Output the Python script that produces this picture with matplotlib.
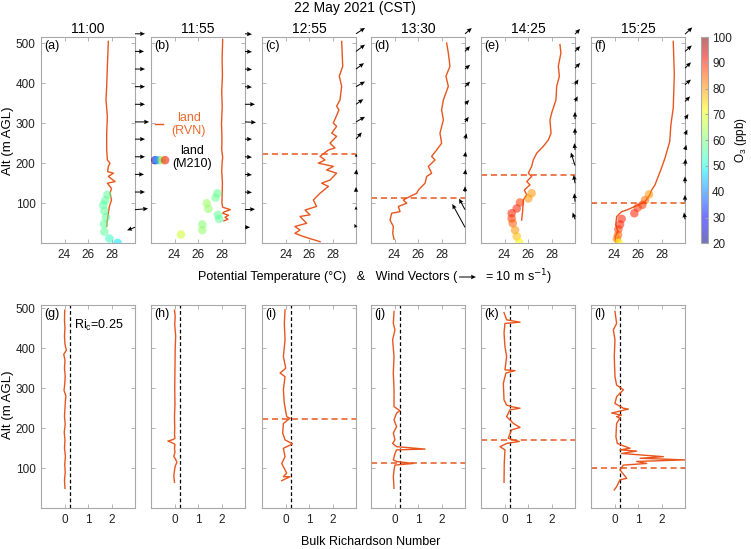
import matplotlib
matplotlib.use('Agg')
import matplotlib.pyplot as plt
import numpy as np

plt.rcParams['font.family'] = ['Liberation Sans', 'DejaVu Sans']

ORANGE = '#E8561E'
FRAME = '#a8a8a8'

times = ['11:00', '11:55', '12:55', '13:30', '14:25', '15:25']
top_tags = ['(a)', '(b)', '(c)', '(d)', '(e)', '(f)']
bot_tags = ['(g)', '(h)', '(i)', '(j)', '(k)', '(l)']
pbl_height = [None, None, 223, 113, 170, 100]

# potential temperature profiles (RVN), deg C vs m AGL
rvn_z_a = [504, 442, 392, 358, 317, 275, 233, 208, 200, 192, 179, 175, 167, 154, 150, 137, 125, 108, 92, 75, 58, 42]
rvn_t_a = [27.73, 27.65, 27.59, 27.53, 27.65, 27.59, 27.59, 27.65, 27.87, 27.73, 27.67, 28.16, 27.73, 28.3, 27.65, 28.0, 27.87, 28.0, 27.82, 27.73, 27.65, 27.59]
rvn_z_b = [508, 460, 420, 380, 340, 300, 260, 233, 215, 200, 180, 150, 120, 100, 90, 84, 78, 75, 70, 65, 60, 56]
rvn_t_b = [28.1, 28.05, 28.08, 28.02, 28.06, 28.0, 28.04, 28.02, 28.1, 28.05, 28.02, 28.08, 28.05, 28.04, 28.1, 28.75, 28.2, 28.1, 28.6, 28.3, 28.55, 28.2]
rvn_z_c = [504, 442, 417, 392, 358, 342, 333, 300, 292, 275, 267, 250, 238, 233, 217, 208, 200, 192, 183, 175, 158, 150, 142, 125, 108, 92, 83, 71, 67, 50, 42, 33, 25, 17, 4]
rvn_t_c = [28.78, 28.87, 28.58, 28.78, 28.64, 28.35, 28.55, 28.07, 28.35, 27.93, 28.35, 27.79, 28.21, 27.65, 26.94, 27.36, 26.8, 28.07, 27.5, 28.35, 27.79, 27.08, 27.65, 26.94, 26.37, 26.65, 25.66, 26.08, 25.23, 25.8, 24.8, 25.23, 24.8, 25.52, 26.94]
rvn_z_d = [500, 475, 442, 417, 392, 358, 333, 308, 275, 250, 233, 217, 208, 192, 175, 167, 150, 133, 125, 117, 108, 100, 92, 79, 75, 58, 42, 25, 10]
rvn_t_d = [28.44, 28.58, 28.72, 28.38, 28.58, 28.16, 28.01, 28.16, 27.87, 28.01, 27.59, 27.16, 27.45, 26.88, 27.16, 26.74, 26.6, 26.03, 25.89, 25.32, 24.75, 25.04, 24.33, 24.47, 23.76, 23.62, 23.9, 23.85, 23.96]
rvn_z_e = [496, 475, 442, 417, 392, 358, 325, 308, 275, 258, 242, 225, 208, 192, 175, 167, 154, 146, 133, 121, 108, 83, 58]
rvn_t_e = [28.72, 28.8, 28.58, 28.67, 28.44, 28.38, 28.01, 27.87, 27.96, 27.73, 27.3, 26.74, 26.45, 26.31, 26.03, 26.31, 25.89, 26.17, 25.69, 25.89, 25.6, 25.55, 25.46]
rvn_z_f = [504, 421, 338, 296, 254, 213, 188, 146, 133, 121, 104, 92, 83, 79, 67, 46, 29, 17, 4]
rvn_t_f = [29.0, 29.09, 29.0, 28.8, 28.7, 28.3, 28.0, 27.45, 27.16, 27.0, 26.6, 25.74, 25.03, 24.61, 24.19, 24.1, 24.3, 24.05, 24.1]

# drone (M210) samples: theta, altitude, O3
m210_t_a = [27.65, 27.48, 27.3, 27.39, 27.53, 27.36, 27.39, 27.82, 28.52]
m210_z_a = [121, 107, 96, 81, 65, 48, 29, 12, 1]
m210_o3_a = [57, 57, 56, 57, 57, 57, 57, 53, 48]
m210_t_b = [24.55, 26.37, 26.37, 26.74, 26.88, 27.5, 27.65, 27.7, 27.8]
m210_z_b = [22, 33, 47, 100, 86, 114, 125, 71, 61]
m210_o3_b = [68, 62, 61, 63, 62, 58, 58, 58, 57]
m210_t_e = [26.31, 26.03, 25.32, 25.04, 24.61, 24.61, 24.7, 24.9, 25.04, 25.26]
m210_z_e = [125, 112, 102, 87, 75, 62, 50, 33, 17, 2]
m210_o3_e = [80, 80, 88, 90, 90, 88, 85, 80, 77, 72]
m210_t_f = [26.94, 26.6, 26.37, 25.97, 25.69, 24.61, 24.47, 24.33, 24.3, 24.2, 24.38]
m210_z_f = [122, 108, 96, 89, 75, 61, 47, 35, 21, 11, 1]
m210_o3_f = [80, 84, 88, 88, 90, 90, 90, 88, 85, 82, 72]

# wind vectors (m/s), bottom to top
wind_z_early = [40, 84, 128, 172, 216, 260, 303, 347, 391, 435, 479, 523]
wind_z_late = [60, 104, 150, 194, 233, 271, 310, 354, 396, 437, 479, 522]
wind_u_a = [-4.7, 7.7, 5.9, 5.3, 5.9, 5.9, 8.3, 5.9, 5.9, 5.9, 5.3, 5.9]
wind_v_a = [-1.8, 0.6, 0, 0, 0, 0, 0, 0, 0, 0, 0, 0]
wind_u_b = [3.0, 5.9, 4.1, 4.1, 4.1, 4.1, 6.5, 5.9, 4.1, 4.1, 4.1, 4.1]
wind_v_b = [0, 0.3, -0.3, -0.3, -0.3, 0, -0.3, 0, -0.3, -0.3, -0.3, -0.3]
wind_u_c = [-1.0, 0, 0, 0.4, 0.2, 3.4, 5.3, 4.3, 5.3, 4.7, 5.3, 5.3]
wind_v_c = [2.0, 2.0, 3.0, 3.0, 1.8, 4.0, 3.0, 3.0, 3.0, 3.5, 4.0, 3.5]
wind_u_d = [-7.5, -3.5, 0, 0.4, 0.4, 1.0, 2.2, 2.5, 3.0, 3.0, 3.0, 4.0]
wind_v_d = [13.7, 6.5, 3.4, 3.0, 3.0, 3.4, 3.0, 2.5, 3.0, 2.5, 3.1, 3.4]
wind_u_e = [-1.4, -0.4, -0.8, -2.4, -0.4, 0, 0, 1.6, 2.0, 3.1, 3.1, 3.0]
wind_v_e = [4.0, 4.9, 4.9, 7.7, 4.0, 4.0, 4.3, 3.1, 3.1, 3.1, 3.1, 3.1]
wind_u_f = [-0.6, 0, 0, 0.4, 0.8, 1.4, 2.0, 3.0, 3.5, 3.5, 4.0, 4.3]
wind_v_f = [4.0, 4.0, 4.0, 4.0, 3.0, 3.0, 3.0, 3.0, 3.0, 3.5, 3.5, 4.0]

# bulk Richardson number profiles
ri_z_g = [50, 70, 90, 110, 130, 150, 170, 190, 210, 230, 250, 270, 280, 295, 310, 330, 350, 370, 385, 395, 410, 430, 450, 470, 495]
ri_v_g = [0.02, 0.0, 0.03, 0.01, 0.04, 0.0, 0.02, -0.01, 0.03, 0.0, 0.02, 0.04, 0.06, -0.02, 0.01, 0.03, 0.0, 0.02, -0.03, 0.08, 0.02, 0.0, 0.02, 0.0, 0.01]
ri_z_h = [65, 80, 95, 105, 115, 122, 130, 140, 150, 160, 165, 168, 172, 175, 185, 200, 230, 260, 300, 350, 400, 430, 460, 480, 495]
ri_v_h = [0.0, -0.03, 0.0, 0.03, 0.1, 0.05, -0.03, 0.02, 0.0, 0.02, -0.15, -0.28, -0.05, 0.02, 0.0, 0.01, 0.0, 0.02, 0.01, 0.02, 0.03, 0.05, 0.01, 0.03, 0.0]
ri_z_i = [496, 462, 421, 379, 350, 338, 329, 296, 262, 229, 225, 212, 188, 171, 161, 150, 129, 112, 88, 79, 79, 69]
ri_v_i = [-0.02, -0.05, -0.02, -0.09, 0.01, -0.23, -0.02, -0.09, -0.05, 0.05, 0.19, -0.09, -0.12, -0.02, 0.3, -0.09, -0.02, -0.16, 0.05, -0.09, 0.19, -0.16]
ri_z_j = [492, 462, 446, 421, 379, 338, 296, 254, 244, 238, 221, 204, 188, 171, 162, 154, 148, 146, 137, 121, 117, 112, 108, 96, 79, 50]
ri_v_j = [-0.02, -0.05, 0.02, -0.08, -0.02, -0.05, -0.02, -0.02, 0.23, 0.09, -0.02, 0.09, -0.05, 0.02, -0.08, 0.09, 1.3, 0.09, 0.02, -0.05, 0.09, 0.8, 0.02, -0.02, -0.05, -0.02]
ri_z_k = [489, 471, 465, 462, 438, 404, 379, 346, 344, 338, 312, 271, 258, 254, 250, 246, 229, 212, 202, 196, 175, 171, 167, 162, 154, 146, 112, 65]
ri_v_k = [-0.02, 0.09, 0.66, 0.02, -0.02, 0.02, 0.09, 0.02, 0.45, 0.06, -0.05, -0.02, 0.09, 0.3, 0.66, 0.23, 0.09, 0.38, 0.66, 0.3, 0.16, 0.38, 0.63, 0.09, -0.19, 0.02, -0.01, -0.02]
ri_z_l = [492, 462, 446, 421, 379, 329, 308, 296, 279, 262, 250, 248, 242, 238, 233, 229, 225, 212, 179, 162, 156, 150, 146, 143, 137, 129, 125, 121, 117, 112, 108, 96, 75, 71, 54, 46]
ri_v_l = [0.02, 0.09, -0.05, 0.02, -0.01, 0.02, 0.09, 0.38, 0.09, 0.02, 0.38, 0.59, 0.16, -0.12, 0.3, 0.09, 0.23, 0.09, 0.06, 0.12, 0.38, 0.66, 0.23, 0.94, 0.3, 2.08, 1.09, 3.0, 0.94, 1.37, 0.38, 0.23, 0.52, 0.23, 0.09, -0.01]

rvn = [(rvn_t_a, rvn_z_a), (rvn_t_b, rvn_z_b), (rvn_t_c, rvn_z_c),
       (rvn_t_d, rvn_z_d), (rvn_t_e, rvn_z_e), (rvn_t_f, rvn_z_f)]
m210 = {0: (m210_t_a, m210_z_a, m210_o3_a), 1: (m210_t_b, m210_z_b, m210_o3_b),
        4: (m210_t_e, m210_z_e, m210_o3_e), 5: (m210_t_f, m210_z_f, m210_o3_f)}
winds = [(wind_z_early, wind_u_a, wind_v_a), (wind_z_early, wind_u_b, wind_v_b),
         (wind_z_early, wind_u_c, wind_v_c), (wind_z_early, wind_u_d, wind_v_d),
         (wind_z_late, wind_u_e, wind_v_e), (wind_z_late, wind_u_f, wind_v_f)]
ri = [(ri_v_g, ri_z_g), (ri_v_h, ri_z_h), (ri_v_i, ri_z_i),
      (ri_v_j, ri_z_j), (ri_v_k, ri_z_k), (ri_v_l, ri_z_l)]

W, H = 751, 549
fig = plt.figure(figsize=(W / 100, H / 100), dpi=100)
lefts = [41, 151, 262, 371, 481, 591]
pw = 94


def px_axes(left, top, bottom):
    return fig.add_axes([left / W, (H - bottom) / H, pw / W, (bottom - top) / H])


def style(ax):
    for s in ax.spines.values():
        s.set_color(FRAME)
        s.set_linewidth(0.8)
    ax.tick_params(direction='in', top=True, right=True, length=3, width=0.6,
                   color=FRAME, labelsize=8.5, labelcolor='#222222', pad=4)


O3_ALPHA = 0.55
sc = None
Q = None
for i in range(6):
    ax = px_axes(lefts[i], 37, 243.3)
    style(ax)
    t, z = rvn[i]
    ax.plot(t, z, color=ORANGE, lw=1.0, zorder=3)
    if i in m210:
        mt, mz, mo = m210[i]
        sc = ax.scatter(mt, mz, c=mo, cmap='jet', vmin=20, vmax=100, s=38,
                        alpha=O3_ALPHA, edgecolors='none', zorder=4)
    if pbl_height[i] is not None:
        ax.axhline(pbl_height[i], color=ORANGE, ls=(0, (4, 2.5)), lw=1.1, zorder=2)
    wz, wu, wv = winds[i]
    Q = ax.quiver(np.full(len(wz), 30.0), wz, wu, wv, angles='uv', pivot='tail',
                  scale_units='dots', scale=1 / 1.7, units='dots', width=1.0,
                  headwidth=4.5, headlength=5, headaxislength=4.5,
                  color='k', clip_on=False, zorder=6)
    ax.set_xlim(22, 30)
    ax.set_ylim(0, 515)
    ax.set_xticks([24, 26, 28])
    ax.set_yticks([100, 200, 300, 400, 500])
    if i > 0:
        ax.set_yticklabels([])
    ax.set_title(times[i], fontsize=10, pad=3)
    ax.text(0.03, 0.985, top_tags[i], transform=ax.transAxes, ha='left', va='top', fontsize=9)

    if i == 1:
        ax.plot([0.04, 0.13], [0.577, 0.577], transform=ax.transAxes, color=ORANGE, lw=1.0)
        ax.text(0.40, 0.577, 'land\n(RVN)', transform=ax.transAxes, ha='center', va='center',
                fontsize=9, color='#EE6A2C', linespacing=1.15)
        cm = plt.get_cmap('jet')
        for lx, lv in zip([0.045, 0.08, 0.115, 0.15], [25, 45, 68, 92]):
            ax.scatter([lx], [0.403], transform=ax.transAxes, s=38, color=cm((lv - 20) / 80),
                       alpha=O3_ALPHA, edgecolors='none', clip_on=False, zorder=5)
        ax.text(0.44, 0.415, 'land\n(M210)', transform=ax.transAxes, ha='center', va='center',
                fontsize=9, color='k', linespacing=1.15)

for i in range(6):
    ax = px_axes(lefts[i], 305, 508.3)
    style(ax)
    r, z = ri[i]
    ax.plot(r, z, color=ORANGE, lw=1.0, zorder=3)
    ax.axvline(0.25, color='k', ls=(0, (3, 2)), lw=0.9, zorder=2)
    if pbl_height[i] is not None:
        ax.axhline(pbl_height[i], color=ORANGE, ls=(0, (4, 2.5)), lw=1.1, zorder=2)
    ax.set_xlim(-1, 3)
    ax.set_ylim(0, 508)
    ax.set_xticks([0, 1, 2])
    ax.set_yticks([100, 200, 300, 400, 500])
    if i > 0:
        ax.set_yticklabels([])
    ax.text(0.03, 0.985, bot_tags[i], transform=ax.transAxes, ha='left', va='top', fontsize=9)
    if i == 0:
        ax.text(0.35, 0.9, 'Ri$_\\mathregular{c}$=0.25', transform=ax.transAxes,
                ha='left', va='center', fontsize=9)

# colorbar
cax = fig.add_axes([701 / W, (H - 243.3) / H, 7 / W, 206.3 / H])
cb = fig.colorbar(sc, cax=cax, ticks=np.arange(20, 101, 10))
cb.outline.set_edgecolor(FRAME)
cb.outline.set_linewidth(0.8)
cax.tick_params(direction='in', length=2, color=FRAME, labelsize=8.5, labelcolor='#222222', pad=3)
cb.set_label('O$_\\mathregular{3}$ (ppb)', fontsize=8.5, labelpad=1)

# figure texts
fig.text(355 / W, 1 - 8 / H, '22 May 2021 (CST)', ha='center', va='center', fontsize=10)
fig.text(8 / W, 1 - 141 / H, 'Alt (m AGL)', rotation=90, ha='center', va='center', fontsize=9.5)
fig.text(8 / W, 1 - 405 / H, 'Alt (m AGL)', rotation=90, ha='center', va='center', fontsize=9.5)
fig.text(457 / W, 1 - 277 / H, 'Potential Temperature (°C)   &   Wind Vectors (',
         ha='right', va='center', fontsize=9)
ax.quiverkey(Q, 476 / W, 1 - 277 / H, 10, '', coordinates='figure', labelpos='E')
fig.text(485 / W, 1 - 277 / H, '= 10 m s$^{-1}$)', ha='left', va='center', fontsize=9)
fig.text(371 / W, 1 - 542 / H, 'Bulk Richardson Number', ha='center', va='center', fontsize=9)

fig.savefig('out.png', dpi=100)
